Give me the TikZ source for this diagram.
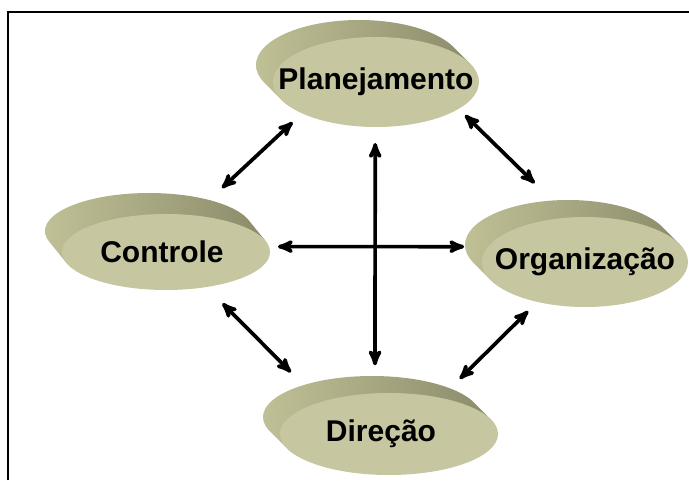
\documentclass[tikz,border=0pt]{standalone}
\usepackage{fontspec}
\setmainfont{Liberation Sans}
\usepackage{tikz}
\usetikzlibrary{arrows,shapes.geometric}
\definecolor{discface}{RGB}{198,198,160}
\definecolor{disclight}{RGB}{192,192,150}
\definecolor{discdark}{RGB}{138,138,106}
\tikzset{
    disc/.style={ellipse, fill=discface, inner sep=0pt, outer sep=0pt},
    discside/.style={left color=disclight, right color=discdark},
    lbl/.style={font=\fontsize{30}{33}\selectfont\bfseries},
    link/.style={<->, >=stealth', line width=3.7pt}
}

\begin{document}
\begin{tikzpicture}[x=1pt, y=-1pt]
  \useasboundingbox (0,0) rectangle (689,480);
  \draw[line width=1.6pt] (8,480) -- (8,12) -- (689,12);
  \foreach \name/\x/\y/\rx/\ry/\dy/\tx/\txt in {pla/376/82/103/45/17/0/Planejamento,
      con/166/252/104/38/21/-4/Controle, org/585/262/103/45/17/0/Organização,
      dir/389/434/109/41/17/-8/Direção}
  {
    \shade[discside] \foreach \k in {17,16,...,1}
      {(\x-\k,\y-\k*\dy/17) ellipse [x radius=\rx, y radius=\ry]};
    \node[disc, minimum width=2*\rx, minimum height=2*\ry] (\name) at (\x,\y) {};
    \node[lbl, xshift=\tx] at (\name) {\txt};
  }
  \draw[link, shorten <=13pt, shorten >=40pt] (pla.203) -- (con.54);
  \draw[link, shorten <=9pt, shorten >=49pt] (pla.342) -- (org.109);
  \draw[link, shorten <=23pt, shorten >=42pt] (con.319) -- (dir.155);
  \draw[link, shorten <=13pt, shorten >=27pt] (org.220) -- (dir.35);
  \draw[link, shorten <=9pt, shorten >=24pt] (con.3) -- (org.171);
  \draw[link, shorten <=16pt, shorten >=28pt] (pla.269) -- (dir.109);
\end{tikzpicture}
\end{document}
